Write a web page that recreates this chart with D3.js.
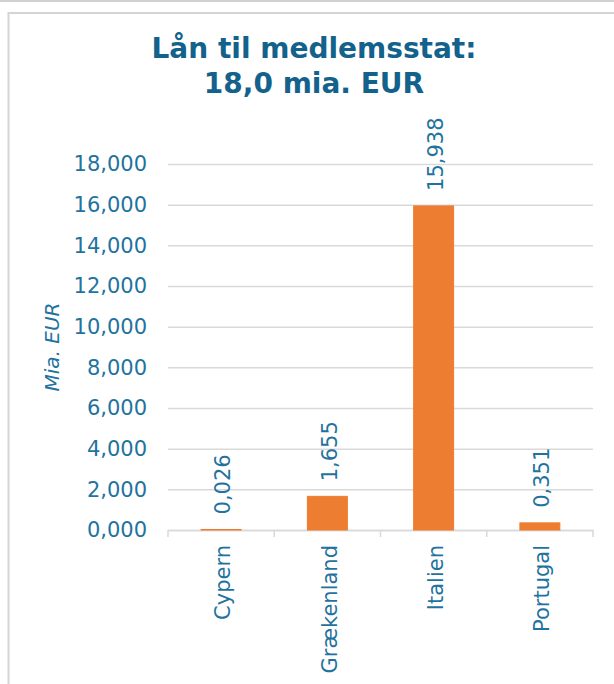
<!DOCTYPE html>
<html>
<head>
<meta charset="utf-8">
<script src="https://cdn.jsdelivr.net/npm/d3@7"></script>
<style>
  html, body { margin: 0; padding: 0; background: #fff; }
  svg { display: block; }
  text { font-family: "DejaVu Sans", Verdana, sans-serif; }
</style>
</head>
<body>
<script>
const categories = ["Cypern", "Grækenland", "Italien", "Portugal"];
const values = [0.026, 1.655, 15.938, 0.351];
const yTicks = [0, 2, 4, 6, 8, 10, 12, 14, 16, 18];
const titleLines = ["Lån til medlemsstat:", "18,0 mia. EUR"];
const yTitle = "Mia. EUR";

const W = 614, H = 684;
const titleColor = "#13628c";
const textColor = "#1f739e";
const barColor = "#ed7d31";
const gridColor = "#d9d9d9";

const locale = d3.formatLocale({decimal: ",", thousands: ".", grouping: [3], currency: ["", " EUR"]});
const fmt = locale.format(".3f");

const svg = d3.select("body").append("svg").attr("width", W).attr("height", H);

// frame
svg.append("line").attr("x1", 0).attr("x2", W).attr("y1", 1).attr("y2", 1)
  .attr("stroke", "#d0d0d0").attr("stroke-width", 2);
svg.append("rect").attr("x", 8.5).attr("y", 13).attr("width", W + 20).attr("height", H + 20)
  .attr("fill", "#fff").attr("stroke", "#d4d4d4").attr("stroke-width", 2);

// title
const title = svg.append("text").attr("text-anchor", "middle")
  .attr("fill", titleColor).attr("font-weight", "bold").attr("font-size", 28);
title.selectAll("tspan").data(titleLines).join("tspan")
  .attr("x", 314).attr("y", (d, i) => 58 + i * 35).text(d => d);

const pL = 168, pR = 593, pT = 164, pB = 530;

const x = d3.scaleBand().domain(categories).range([pL, pR])
  .paddingInner(0.624).paddingOuter(0.312);
const y = d3.scaleLinear().domain([0, 18]).range([pB, pT]);

// gridlines
const grid = svg.append("g").attr("transform", `translate(${pL},0)`)
  .call(d3.axisLeft(y).tickValues(yTicks).tickSize(-(pR - pL)).tickFormat(""));
grid.select(".domain").remove();
grid.selectAll(".tick line").attr("stroke", gridColor).attr("stroke-width", 1.5);

// y axis labels
const ya = svg.append("g").attr("transform", `translate(${pL},0)`)
  .call(d3.axisLeft(y).tickValues(yTicks).tickSize(0).tickPadding(21).tickFormat(fmt));
ya.select(".domain").remove();
ya.selectAll("text").attr("fill", textColor).attr("font-size", 21)
  .attr("font-family", "'DejaVu Sans', Verdana, sans-serif");

// y title
svg.append("text").attr("transform", `translate(59,${(pT + pB) / 2}) rotate(-90)`)
  .attr("text-anchor", "middle").attr("fill", textColor).attr("font-size", 20)
  .attr("font-style", "italic").text(yTitle);

// x axis
const xa = svg.append("g").attr("transform", `translate(0,${pB})`)
  .call(d3.axisBottom(x).tickSize(0).tickFormat(""));
xa.select(".domain").attr("stroke", gridColor).attr("stroke-width", 1.5);
svg.append("g").selectAll("line").data(d3.range(categories.length + 1)).join("line")
  .attr("x1", i => pL + i * (pR - pL) / categories.length)
  .attr("x2", i => pL + i * (pR - pL) / categories.length)
  .attr("y1", pB).attr("y2", pB + 7)
  .attr("stroke", gridColor).attr("stroke-width", 1.5);

// category labels
svg.append("g").selectAll("text").data(categories).join("text")
  .attr("transform", d => `translate(${x(d) + x.bandwidth() / 2 + 2},${pB + 15}) rotate(-90)`)
  .attr("text-anchor", "end").attr("dy", "0.35em")
  .attr("fill", textColor).attr("font-size", 21).text(d => d);

// bars
svg.append("g").selectAll("rect").data(values).join("rect")
  .attr("x", (d, i) => x(categories[i]))
  .attr("width", x.bandwidth())
  .attr("y", d => y(d))
  .attr("height", d => y(0) - y(d))
  .attr("fill", barColor)
  .attr("stroke", barColor).attr("stroke-width", 1);

// data labels
svg.append("g").selectAll("text").data(values).join("text")
  .attr("transform", (d, i) => `translate(${x(categories[i]) + x.bandwidth() / 2 + 2},${y(d) - 15}) rotate(-90)`)
  .attr("text-anchor", "start").attr("dy", "0.35em")
  .attr("fill", textColor).attr("font-size", 21).text(d => fmt(d));
</script>
</body>
</html>
